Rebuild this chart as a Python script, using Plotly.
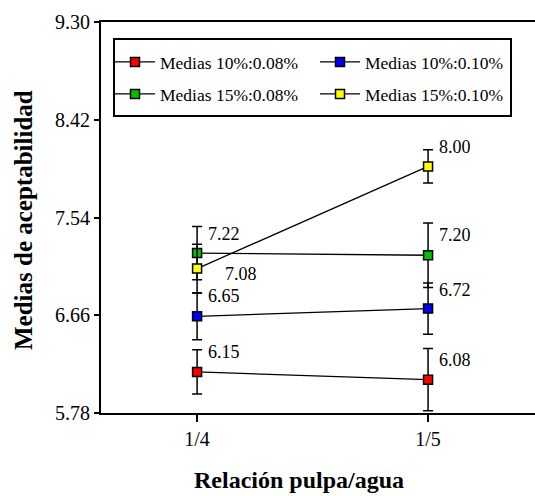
import plotly.graph_objects as go

# ---- data ----
categories = ["1/4", "1/5"]
series_names = ["Medias 10%:0.08%", "Medias 10%:0.10%", "Medias 15%:0.08%", "Medias 15%:0.10%"]
red_values = [6.15, 6.08]
blue_values = [6.65, 6.72]
green_values = [7.22, 7.20]
yellow_values = [7.08, 8.00]
red_err = [0.20, 0.28]
blue_err = [0.21, 0.23]
green_err = [0.24, 0.29]
yellow_err = [0.22, 0.15]
y_tick_values = [5.78, 6.66, 7.54, 8.42, 9.30]
y_tick_labels = ["5.78", "6.66", "7.54", "8.42", "9.30"]
x_title = "Relación pulpa/agua"
y_title = "Medias de aceptabilidad"

# ---- style ----
colors = ["#ff0000", "#0000ff", "#00c000", "#ffff00"]
FONT = "Liberation Serif, Times New Roman, serif"
legend_ids = ["legend", "legend", "legend2", "legend2"]
label_offsets = [
    [(9, 20), (9, 20)],
    [(9, 20), (9, 19)],
    [(9, 19), (9, 20)],
    [(26, -5), (9, 19)],
]

values = [red_values, blue_values, green_values, yellow_values]
errors = [red_err, blue_err, green_err, yellow_err]

fig = go.Figure()
for name, vals, errs, col, lg in zip(series_names, values, errors, colors, legend_ids):
    fig.add_trace(go.Scatter(
        x=categories, y=vals, name=name, mode="lines+markers", legend=lg,
        line=dict(color="black", width=1.3),
        marker=dict(symbol="square", size=9, color=col, line=dict(color="black", width=1.5)),
        error_y=dict(type="data", array=errs, visible=True, color="black", thickness=1.5, width=5),
    ))

for vals, offs in zip(values, label_offsets):
    for cat, v, (dx, dy) in zip(categories, vals, offs):
        fig.add_annotation(
            x=cat, y=v, text=f"{v:.2f}", showarrow=False,
            xanchor="left", yanchor="middle", xshift=dx, yshift=dy,
            font=dict(family=FONT, size=18, color="black"),
        )

# axis titles (placed as in the reference)
fig.add_annotation(
    x=(299 - 101) / 434, y=-(480 - 413) / 391, xref="paper", yref="paper",
    text=f"<b>{x_title}</b>", showarrow=False, xanchor="center", yanchor="middle",
    font=dict(family=FONT, size=24, color="black"),
)
fig.add_annotation(
    x=(23 - 101) / 434, y=(413 - 220) / 391, xref="paper", yref="paper",
    text=f"<b>{y_title}</b>", showarrow=False, xanchor="center", yanchor="middle",
    textangle=-90, font=dict(family=FONT, size=25, color="black"),
)

leg_common = dict(
    orientation="h", xanchor="left", yanchor="middle",
    borderwidth=0, bgcolor="rgba(0,0,0,0)",
    font=dict(family=FONT, size=17.5, color="black"),
    entrywidth=150, itemwidth=40,
)

# legend frame
fig.add_shape(type="rect", xref="paper", yref="paper",
              x0=(114 - 101) / 434, x1=(511 - 101) / 434,
              y0=(413 - 116) / 391, y1=(413 - 39) / 391,
              line=dict(color="black", width=2), fillcolor="white", layer="below")

fig.update_layout(
    width=535, height=496,
    margin=dict(l=101, r=0, t=22, b=83),
    paper_bgcolor="white", plot_bgcolor="white",
    font=dict(family=FONT, color="black"),
    showlegend=True,
    legend=dict(x=(110 - 101) / 434, y=(413 - 62) / 391, **leg_common),
    legend2=dict(x=(110 - 101) / 434, y=(413 - 94) / 391, **leg_common),
    xaxis=dict(
        type="category", range=[-0.416, 1.463],
        showline=True, linecolor="black", linewidth=2, mirror=True,
        ticks="outside", ticklen=7, tickwidth=1.5, tickcolor="black",
        showgrid=False, zeroline=False,
        tickfont=dict(family=FONT, size=20, color="black"),
    ),
    yaxis=dict(
        range=[5.78, 9.30], tickvals=y_tick_values, ticktext=y_tick_labels,
        showline=True, linecolor="black", linewidth=2,
        ticks="outside", ticklen=5, tickwidth=1.5, tickcolor="black",
        showgrid=False, zeroline=False,
        tickfont=dict(family=FONT, size=20, color="black"),
    ),
)

fig.write_html("out.html")
